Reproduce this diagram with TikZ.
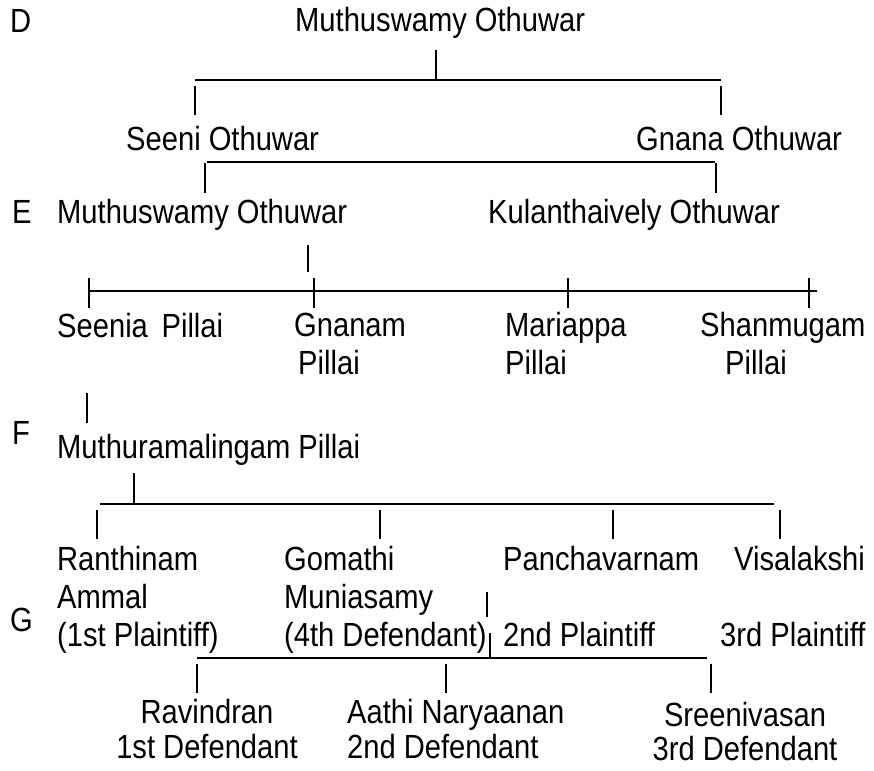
\documentclass[tikz,border=0pt]{standalone}
\usepackage{fontspec}
\setmainfont{Liberation Sans}[FakeStretch=0.87]

\begin{document}
\begin{tikzpicture}[x=1pt,y=-1pt,
    every node/.style={inner sep=0pt, anchor=base west, align=left,
        font=\fontsize{33.5}{38}\selectfont},
    bar/.style={line width=2.4pt},
    tick/.style={line width=1.7pt}]
    \useasboundingbox (0,0) rectangle (874,770);

    % generation D
    \node (genD) at (10,33) {D};
    \node (muthu) at (295,32) {Muthuswamy Othuwar};
    \node (seeni) at (126,150) {Seeni Othuwar};
    \node (gnana) at (636,150) {Gnana Othuwar};
    \coordinate (upD) at (436,50);
    \coordinate (busDa) at (195,80);
    \coordinate (busDb) at (721,80);
    \draw[tick] (upD) -- (upD |- busDa);
    \draw[bar] (busDa) -- (busDb);
    \draw[tick] (busDa) ++(0,6) -- ++(0,29);
    \draw[tick] (busDb) ++(0,6) -- ++(0,29);
    \coordinate (busEa) at (207,162);
    \coordinate (busEb) at (715,162);
    \draw[bar] (busEa) -- (busEb);
    \draw[tick] (busEa) ++(-2,1) -- ++(0,30);
    \draw[tick] (busEb) ++(1,1) -- ++(0,30);

    % generation E
    \node (genE) at (12,223) {E};
    \node (muthuE) at (57,223) {Muthuswamy Othuwar};
    \node (kulan) at (488,223) {Kulanthaively Othuwar};
    \coordinate (upE) at (308,245);
    \coordinate (busFa) at (90,291);
    \coordinate (busFb) at (817,291);
    \draw[tick] (upE) -- ++(0,27);
    \draw[bar] (busFa) -- (busFb);
    \foreach \x in {89,314,568,809}
        \draw[tick] (\x,278) -- (\x,308);
    % multi-line nodes sit on their last line
    \node (seenia) at (57,337) {Seenia\, Pillai};
    \node (gnanam) at (294,374) {Gnanam\\\hspace{4pt}Pillai};
    \node (mariappa) at (505,374) {Mariappa\\Pillai};
    \node (shanmugam) at (700,374) {Shanmugam\\\hspace{25pt}Pillai};

    % generation F
    \node (genF) at (12,444) {F};
    \node (muthuram) at (57,458) {Muthuramalingam Pillai};
    \coordinate (upF) at (87,393);
    \draw[tick] (upF) -- ++(0,30);
    \coordinate (upG) at (134,473);
    \coordinate (busGa) at (100,504);
    \coordinate (busGb) at (774,504);
    \draw[tick] (upG) -- (upG |- busGa);
    \draw[bar] (busGa) -- (busGb);
    \foreach \x in {97,380,613,780}
        \draw[tick] (\x,510) -- (\x,539);

    % generation G
    \node (genG) at (10,631) {G};
    \node (ranthinam) at (57,646) {Ranthinam\\Ammal\\(1st Plaintiff)};
    \node (gomathi) at (284,646) {Gomathi\\Muniasamy\\(4th Defendant)};
    \node (pancha) at (503,646) {Panchavarnam\\[38pt]2nd Plaintiff};
    \node (visa) at (734,646) {Visalakshi\\[38pt]\hspace{-14pt}3rd Plaintiff};
    \coordinate (wed) at (487,592);
    \coordinate (busHa) at (197,658);
    \coordinate (busHb) at (707,658);
    \draw[tick] (wed) -- ++(0,25);
    \draw[tick] (wed |- busHa) ++(3,-25) -- ++(0,25);
    \draw[bar] (busHa) -- (busHb);
    \draw[tick] (busHa) ++(0,6) -- ++(0,29);
    \draw[tick] (446,664) -- (446,693);
    \draw[tick] (busHb) ++(4,6) -- ++(0,29);

    % children
    \node[align=center, anchor=base, font=\fontsize{33.5}{35}\selectfont]
        (ravi) at (207,758) {Ravindran\\1st Defendant};
    \node[font=\fontsize{33.5}{35}\selectfont]
        (aathi) at (347,758) {Aathi Naryaanan\\2nd Defendant};
    \node[align=center, anchor=base, font=\fontsize{33.5}{34}\selectfont]
        (sreeni) at (745,760) {Sreenivasan\\3rd Defendant};
\end{tikzpicture}
\end{document}
